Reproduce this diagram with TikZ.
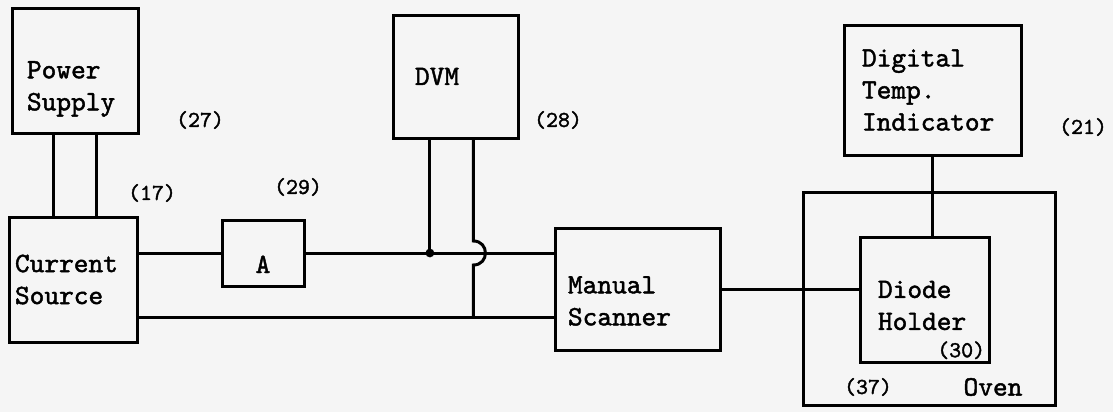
\documentclass[tikz,border=0pt]{standalone}
\usepackage{fontspec}
\newfontfamily\typer{lmmono10-regular.otf}[FakeBold=1.6]
\usetikzlibrary{calc,positioning}

\begin{document}
\begin{tikzpicture}[
  x=0.5pt, y=-0.5pt,
  unit/.style={rectangle,draw=black,line width=1.5pt,align=left,inner ysep=0pt,font=\typer\fontsize{14}{16}\selectfont},
  drop/.style={text height=#1,text depth=0pt},
  caption/.style={inner sep=0pt,font=\typer\fontsize{14}{16}\selectfont},
  tag/.style={inner sep=0pt,font=\typer\fontsize{11.4}{12}\selectfont},
  wire/.style={line width=1.5pt}
]
  \fill[black!4] (0,0) rectangle (1113,412);
  \useasboundingbox (0,0) rectangle (1113,412);

  % instruments
  \node[unit,minimum width=63pt,minimum height=62.5pt,text width=48pt,inner xsep=7.5pt,text height=27pt] (ps) at (75,70.5) {Power\\Supply};
  \node[unit,minimum width=64pt,minimum height=62.5pt,text width=58pt,inner xsep=3pt] (cs) at (73,279.5) {Current\\Source};
  \node[unit,minimum width=41pt,minimum height=33pt,drop=20pt] (amp) at (263,253) {A};
  \node[unit,minimum width=62.5pt,minimum height=61.5pt,text width=40.5pt,inner xsep=11pt] (dvm) at (455.5,76.5) {DVM};
  \node[unit,minimum width=82.5pt,minimum height=61pt,text width=69.5pt,inner xsep=6.5pt,text height=20.5pt] (scan) at (637.5,289) {Manual\\Scanner};
  \node[unit,minimum width=82.5pt,minimum height=65pt,text width=70.5pt,inner xsep=9pt] (dti) at (932.5,90) {Digital\\Temp.\\Indicator};
  \node[unit,minimum width=126pt,minimum height=106.5pt] (oven) at (929,298.5) {};
  \node[unit,minimum width=62.5pt,minimum height=62.5pt,text width=46.5pt,inner xsep=9pt,text height=14.5pt] (dh) at (924.5,299.5) {Diode\\Holder};

  % reference numbers
  \node[tag] (t27) at (200,120) {(27)};
  \node[tag] (t17) at (152,193) {(17)};
  \node[tag] (t29) at (298,187) {(29)};
  \node[tag] (t28) at (558,120) {(28)};
  \node[tag] (t21) at (1083,127) {(21)};
  \node[tag,anchor=south east] (t30) at ($(dh.south east)+(-5,-4)$) {(30)};
  \node[tag] (t37) at (868,387) {(37)};
  \node[caption] (ovenname) at (993,387) {Oven};

  % supply leads
  \coordinate (psa) at ($(ps.south west)!1/3!(ps.south east)$);
  \coordinate (psb) at ($(ps.south west)!2/3!(ps.south east)$);
  \draw[wire] (psa) -- (psa |- cs.north);
  \draw[wire] (psb) -- (psb |- cs.north);

  % current loop through the ammeter
  \draw[wire] (amp.west -| cs.east) -- (amp.west);
  \draw[wire] (amp.east) -- (amp.east -| scan.west);
  \coordinate (csb) at ($(cs.north east)!0.8!(cs.south east)$);
  \draw[wire] (csb) -- (csb -| scan.west);

  % voltmeter leads, the second one hops over
  \coordinate (dvma) at ($(dvm.south west)!0.3!(dvm.south east)$);
  \coordinate (dvmb) at ($(dvm.south west)!0.64!(dvm.south east)$);
  \draw[wire] (dvma) -- (dvma |- amp.east);
  \fill (dvma |- amp.east) circle (2.2pt);
  \draw[wire] (dvmb) -- ($(dvmb |- amp.east)+(0,-12)$)
    .. controls +(16,0) and +(16,0) .. ($(dvmb |- amp.east)+(0,12)$) -- (dvmb |- csb);

  % scanner to sample, thermometer to sample
  \draw[wire] (scan.east) -- (scan.east -| dh.west);
  \draw[wire] (dti.south) -- (dti.south |- dh.north);
\end{tikzpicture}
\end{document}
